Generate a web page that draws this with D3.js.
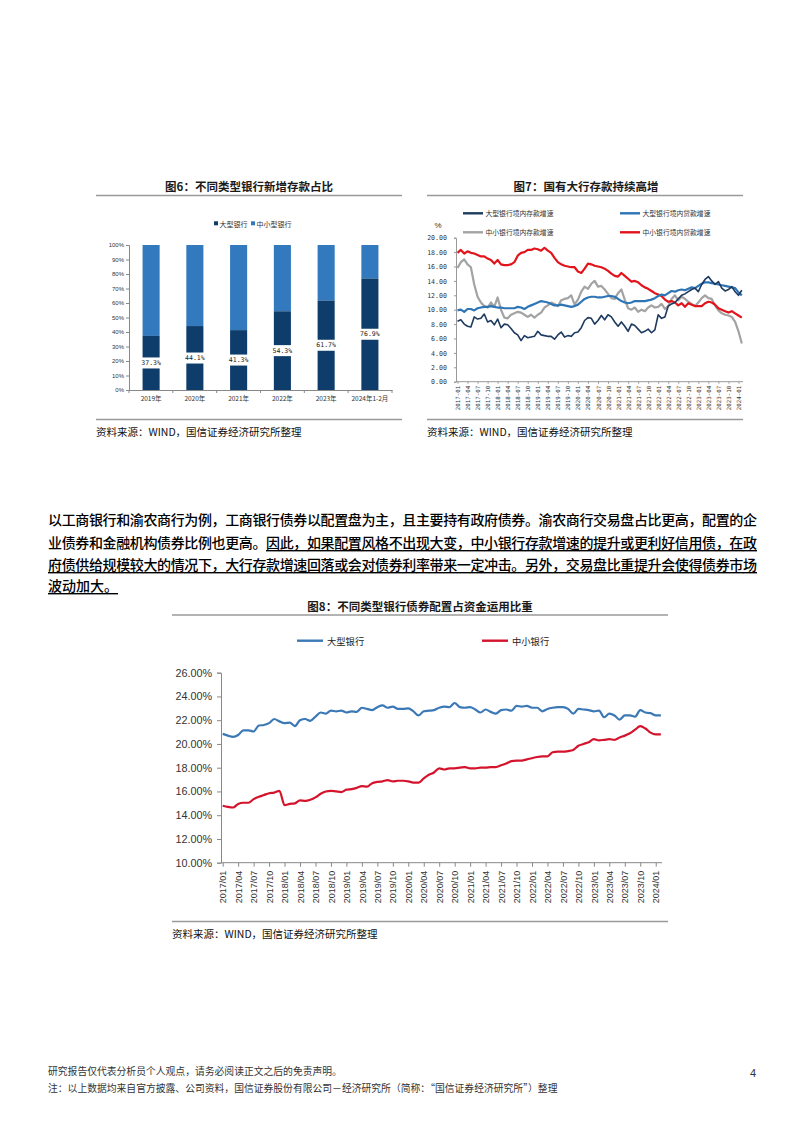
<!DOCTYPE html>
<html><head><meta charset="utf-8">
<script src="https://cdn.jsdelivr.net/npm/d3@7"></script>
<style>body{margin:0;background:#fff} svg{display:block}</style>
</head><body><svg id="page" width="802" height="1133"></svg>
<script>
// ---------- DATA ----------
// Fig 6
const barCats = ["2019年","2020年","2021年","2022年","2023年","2024年1-2月"];
const bigBankShare = [37.3,44.1,41.3,54.3,61.7,76.9];
const barSeriesNames = ["大型银行","中小型银行"];
const pctTicks = [0,10,20,30,40,50,60,70,80,90,100];

// Fig 7 (monthly 2017-01 .. 2024-02)
const bigDeposit = [8.4,8.6,8.0,7.7,7.6,9.0,8.7,8.8,9.4,8.3,8.5,7.9,
 8.7,7.5,8.0,7.9,7.4,6.8,6.5,5.7,6.4,6.1,6.2,6.3,
 7.0,6.5,6.4,6.3,6.3,5.9,6.5,6.9,6.2,6.4,6.3,6.8,
 6.9,7.5,8.5,8.9,8.8,8.0,8.5,9.2,8.6,9.3,9.0,8.3,
 7.7,8.3,7.7,7.0,8.0,7.8,7.3,6.8,7.0,7.3,6.8,7.2,
 9.3,8.8,9.0,10.5,10.8,11.0,11.5,12.0,12.2,12.5,12.8,13.0,
 12.5,13.5,14.2,14.6,14.0,13.5,13.9,13.0,12.6,12.8,13.2,12.5,
 12.0,12.7];
const bigLoan = [9.9,10.0,9.7,10.1,10.1,9.9,10.2,10.3,10.4,10.4,10.5,10.4,
 10.3,10.3,10.2,10.2,10.2,10.2,10.4,10.3,10.1,10.4,10.6,10.8,
 11.0,11.2,11.1,11.0,10.8,10.6,10.6,10.7,10.6,10.5,10.4,10.5,
 10.7,11.1,11.5,11.7,11.8,11.8,11.7,11.7,11.8,11.9,11.9,11.8,
 11.5,11.2,11.0,10.9,11.0,11.2,11.2,11.2,11.2,11.3,11.4,11.6,
 11.9,12.1,12.0,12.3,12.6,12.5,12.7,12.8,12.7,12.9,13.1,13.0,
 13.3,13.6,13.8,13.8,13.7,13.6,13.5,13.4,13.3,13.2,13.1,13.0,
 12.4,12.0];
const smallDeposit = [15.8,16.6,17.0,16.3,15.9,13.5,11.8,11.0,10.5,10.3,11.0,10.4,
 11.7,10.0,8.9,8.8,9.3,9.5,9.7,9.6,9.3,9.0,9.3,8.9,
 9.3,9.6,10.3,10.6,11.0,10.8,10.5,11.3,11.5,11.6,12.0,10.7,
 11.4,12.5,13.2,12.9,13.6,14.0,13.2,13.3,12.8,12.2,11.6,11.5,
 12.3,12.8,11.4,10.2,10.0,10.3,9.7,10.0,9.8,10.3,10.6,10.3,
 10.4,10.8,10.1,10.5,11.5,12.0,11.3,11.8,11.5,11.1,10.8,10.5,
 11.0,11.6,12.0,11.6,11.5,10.6,9.9,9.5,9.3,9.2,9.0,8.3,
 7.0,5.3];
const smallLoan = [17.9,18.3,17.8,18.1,17.9,17.8,17.6,17.4,17.4,17.1,16.9,16.4,
 16.9,16.3,16.2,16.2,16.3,16.6,17.5,17.9,18.0,18.3,18.3,18.5,
 18.4,18.2,18.6,18.2,17.9,17.2,16.6,16.3,16.1,16.0,15.9,15.9,
 15.3,15.1,15.7,16.4,16.3,16.1,16.0,15.9,15.7,15.4,15.0,14.7,
 14.6,15.1,14.7,14.3,13.9,14.0,13.8,13.4,13.1,12.9,12.6,12.3,
 12.1,11.9,11.4,11.1,11.2,11.0,10.6,10.9,10.4,10.9,10.7,10.5,
 10.5,10.5,10.9,11.1,11.0,10.7,10.2,10.0,9.8,9.6,9.8,9.5,
 9.2,8.9];
const fig7Names = ["大型银行境内存款增速","大型银行境内贷款增速","中小银行境内存款增速","中小银行境内贷款增速"];
const fig7YTicks = [0,2,4,6,8,10,12,14,16,18,20];
const fig7XTicks = ["2017-01","2017-04","2017-07","2017-10","2018-01","2018-04","2018-07","2018-10","2019-01","2019-04","2019-07","2019-10","2020-01","2020-04","2020-07","2020-10","2021-01","2021-04","2021-07","2021-10","2022-01","2022-04","2022-07","2022-10","2023-01","2023-04","2023-07","2023-10","2024-01"];

// Fig 8 (monthly 2017/01 .. 2024/02)
const bigBondShare = [20.85,20.7,20.6,20.75,21.15,21.15,21.05,21.55,21.6,21.75,22.1,21.9,
 21.75,21.8,21.5,22.0,22.1,21.95,22.3,22.65,22.55,22.8,22.75,22.8,
 22.65,22.75,22.7,23.05,22.95,22.85,23.1,23.25,23.05,23.15,22.95,22.95,
 23.0,22.75,22.4,22.75,22.8,22.85,23.05,23.15,23.1,23.45,23.1,23.05,
 23.1,22.9,22.65,22.9,22.7,22.55,22.85,22.9,22.8,23.2,23.15,23.2,
 23.05,23.05,22.75,22.95,23.05,23.1,23.1,22.95,22.55,22.95,22.9,22.85,
 22.75,22.8,22.25,22.55,22.4,22.05,22.4,22.4,22.3,22.85,22.65,22.6,
 22.4,22.4];
const smallBondShare = [14.8,14.7,14.65,14.95,15.05,15.05,15.35,15.55,15.7,15.85,15.9,16.05,
 14.85,14.95,15.0,15.25,15.2,15.3,15.5,15.8,16.0,16.05,16.0,15.95,
 16.15,16.2,16.3,16.45,16.4,16.7,16.8,16.85,16.95,16.85,16.9,16.9,
 16.85,16.75,16.75,17.1,17.4,17.6,17.95,17.85,17.95,17.95,18.0,18.05,
 17.95,17.95,18.0,18.0,18.05,18.05,18.2,18.35,18.55,18.6,18.6,18.7,
 18.8,18.9,18.95,18.95,19.3,19.35,19.35,19.4,19.5,19.85,20.0,20.15,
 20.4,20.3,20.35,20.4,20.35,20.55,20.7,20.9,21.2,21.5,21.3,20.95,
 20.8,20.8];
const fig8Names = ["大型银行","中小银行"];
const fig8YTicks = [10,12,14,16,18,20,22,24,26];
const fig8XTicks = ["2017/01","2017/04","2017/07","2017/10","2018/01","2018/04","2018/07","2018/10","2019/01","2019/04","2019/07","2019/10","2020/01","2020/04","2020/07","2020/10","2021/01","2021/04","2021/07","2021/10","2022/01","2022/04","2022/07","2022/10","2023/01","2023/04","2023/07","2023/10","2024/01"];

const paragraph = [
 [["以工商银行和渝农商行为例，工商银行债券以配置盘为主，且主要持有政府债券。渝农商行交易盘占比更高，配置的企",false]],
 [["业债券和金融机构债券比例也更高。",false],["因此，如果配置风格不出现大变，中小银行存款增速的提升或更利好信用债，在政",true]],
 [["府债供给规模较大的情况下，大行存款增速回落或会对债券利率带来一定冲击。另外，交易盘比重提升会使得债券市场",true]],
 [["波动加大。",true]]
];

// ---------- DRAW ----------
const svg = d3.select("#page");
svg.append("rect").attr("width",802).attr("height",1133).attr("fill","#fff");
const CJK = "'Noto Sans CJK SC','Noto Sans',sans-serif";
const SANS = "'Liberation Sans',Arial,sans-serif";

function titleBlock(cx, x0, x1, y, text){
  svg.append("text").attr("x",cx).attr("y",y).attr("text-anchor","middle")
    .attr("dominant-baseline","central").style("font-family",CJK).style("font-size","11.5px")
    .style("font-weight",600).attr("fill","#1a1a1a").text(text);
  svg.append("line").attr("x1",x0).attr("x2",x1).attr("y1",y+9.5).attr("y2",y+9.5)
    .attr("stroke","#9a9a9a").attr("stroke-width",1.5);
}
function sourceBlock(x0, x1, yLine, text){
  svg.append("line").attr("x1",x0).attr("x2",x1).attr("y1",yLine).attr("y2",yLine)
    .attr("stroke","#9a9a9a").attr("stroke-width",1.5);
  svg.append("text").attr("x",x0).attr("y",yLine+12).attr("dominant-baseline","central")
    .style("font-family",CJK).style("font-size","10.5px").attr("fill","#111").text(text);
}

// ===== Fig 6 =====
titleBlock(249, 96, 402, 186, "图6：不同类型银行新增存款占比");
const x6 = d3.scaleBand().domain(barCats).range([129,392]).paddingInner(0.61).paddingOuter(0.31);
const y6 = d3.scaleLinear().domain([0,100]).range([390,245]);
const darkC = "#0e3d6c", lightC = "#3279bd";
const g6 = svg.append("g");
g6.selectAll(".top").data(bigBankShare).join("rect")
  .attr("x",(d,i)=>x6(barCats[i])).attr("width",x6.bandwidth())
  .attr("y",y6(100)).attr("height",d=>y6(d)-y6(100)).attr("fill",lightC);
g6.selectAll(".bot").data(bigBankShare).join("rect")
  .attr("x",(d,i)=>x6(barCats[i])).attr("width",x6.bandwidth())
  .attr("y",d=>y6(d)).attr("height",d=>y6(0)-y6(d)).attr("fill",darkC);
const lab6 = g6.selectAll(".lab").data(bigBankShare).join("g")
  .attr("transform",(d,i)=>`translate(${x6(barCats[i])+x6.bandwidth()/2},${y6(d/2)})`);
lab6.append("rect").attr("x",-12).attr("y",-5.5).attr("width",24).attr("height",11).attr("fill","#fff");
lab6.append("text").attr("text-anchor","middle").attr("dominant-baseline","central")
  .style("font-family","'DejaVu Sans Mono',monospace").style("font-size","6.5px").attr("fill","#222")
  .text(d=>d.toFixed(1)+"%");
const ax6y = svg.append("g").attr("transform","translate(129,0)")
  .call(d3.axisLeft(y6).tickValues(pctTicks).tickFormat(d=>d+"%").tickSize(3).tickPadding(2));
const ax6x = svg.append("g").attr("transform","translate(0,390)")
  .call(d3.axisBottom(x6).tickSize(0).tickPadding(6));
[ax6y,ax6x].forEach(a=>{a.select(".domain").attr("stroke","#888");a.selectAll("line").attr("stroke","#888");
  a.selectAll("text").style("font-family",SANS).style("font-size","6px").attr("fill","#333");});
ax6x.selectAll("text").style("font-family",CJK).style("font-size","6.5px");
svg.append("g").selectAll("line").data(d3.range(barCats.length+1)).join("line")
  .attr("x1",i=>129+i*(392-129)/barCats.length).attr("x2",i=>129+i*(392-129)/barCats.length)
  .attr("y1",390).attr("y2",393).attr("stroke","#888");
const leg6 = [[216,darkC],[253,lightC]];
leg6.forEach((l,i)=>{
  svg.append("rect").attr("x",l[0]-2).attr("y",221.3).attr("width",4).attr("height",4).attr("fill",l[1]);
  svg.append("text").attr("x",l[0]+3.5).attr("y",223.5).attr("dominant-baseline","central")
    .style("font-family",CJK).style("font-size","7px").attr("fill","#333").text(barSeriesNames[i]);
});
sourceBlock(96, 402, 419.5, "资料来源：WIND，国信证券经济研究所整理");

// ===== Fig 7 =====
titleBlock(586, 427, 743, 186, "图7：国有大行存款持续高增");
const months = [];
for(let yy=2017; yy<=2024; yy++) for(let mm=1; mm<=12; mm++){ if(months.length<86) months.push(yy+"-"+String(mm).padStart(2,"0")); }
const x7 = d3.scalePoint().domain(months).range([457.5, 457.5+85*3.345]);
const y7 = d3.scaleLinear().domain([0,20]).range([381.7,237.7]);
const ax7y = svg.append("g").attr("transform","translate(456,0)")
  .call(d3.axisLeft(y7).tickValues(fig7YTicks).tickFormat(d3.format(".2f")).tickSize(2).tickPadding(7));
const ax7x = svg.append("g").attr("transform","translate(0,381.7)")
  .call(d3.axisBottom(x7).tickValues(fig7XTicks).tickSize(2));
ax7x.select(".domain").attr("d","M456,0H743");
[ax7y,ax7x].forEach(a=>{a.select(".domain").attr("stroke","#999");a.selectAll("line").attr("stroke","#999");
  a.selectAll("text").style("font-family","'DejaVu Sans Mono',monospace").attr("fill","#333");});
ax7y.selectAll("text").style("font-size","6.6px");
ax7x.selectAll("text").style("font-size","5.8px").attr("transform","rotate(-90)")
  .attr("x",-4).attr("y",0).attr("dy","0.35em").style("text-anchor","end");
const fig7Series = [bigDeposit,bigLoan,smallDeposit,smallLoan];
const fig7Colors = ["#1d3a5f","#2e75b6","#a3a3a3","#e1141c"];
const line7 = d3.line().x((d,i)=>x7(months[i])).y(d=>y7(d));
[2,3,1,0].forEach(k=>{
  svg.append("path").datum(fig7Series[k]).attr("d",line7).attr("fill","none")
    .attr("stroke",fig7Colors[k]).attr("stroke-width",k===0?1.6:2.2).attr("stroke-linejoin","round");
});
svg.append("text").attr("x",438).attr("y",225.5).attr("text-anchor","middle").attr("dominant-baseline","central")
  .style("font-family",SANS).style("font-size","8px").attr("fill","#333").text("%");
const leg7 = [[463,213.3],[620,213.3],[463,232.3],[620,232.3]];
leg7.forEach((p,k)=>{
  svg.append("line").attr("x1",p[0]).attr("x2",p[0]+20).attr("y1",p[1]).attr("y2",p[1])
    .attr("stroke",fig7Colors[k]).attr("stroke-width",2.4);
  svg.append("text").attr("x",p[0]+22.5).attr("y",p[1]).attr("dominant-baseline","central")
    .style("font-family",CJK).style("font-size","6.8px").attr("fill","#333").text(fig7Names[k]);
});
sourceBlock(427, 743, 419.5, "资料来源：WIND，国信证券经济研究所整理");

// ===== Paragraph =====
const paraY = [519,542,564,585];
paragraph.forEach((segs,li)=>{
  const t = svg.append("text").attr("x",48).attr("y",paraY[li]).attr("dominant-baseline","central")
    .style("font-family",CJK).style("font-size","14px").style("font-weight",500).attr("fill","#000");
  if(li<3) t.attr("textLength",709).attr("lengthAdjust","spacing");
  segs.forEach(s=>{
    t.append("tspan").text(s[0]).style("text-decoration",s[1]?"underline":"none");
  });
});

// ===== Fig 8 =====
titleBlock(420, 172, 668, 605.5, "图8：不同类型银行债券配置占资金运用比重");
const x8 = d3.scalePoint().domain(months).range([222.7, 222.7+85*5.155]);
const y8 = d3.scaleLinear().domain([10,26]).range([862.7,672.7]);
const ax8y = svg.append("g").attr("transform","translate(221,0)")
  .call(d3.axisLeft(y8).tickValues(fig8YTicks).tickFormat(d=>d.toFixed(2)+"%").tickSize(4).tickPadding(5));
const ax8x = svg.append("g").attr("transform","translate(0,862.7)")
  .call(d3.axisBottom(x8).tickValues(fig8XTicks.map(t=>t.replace("/","-"))).tickFormat(d=>d.replace("-","/")).tickSize(4));
ax8x.select(".domain").attr("d","M221,0H662");
[ax8y,ax8x].forEach(a=>{a.select(".domain").attr("stroke","#888");a.selectAll("line").attr("stroke","#888");
  a.selectAll("text").style("font-family",SANS).attr("fill","#333");});
ax8y.selectAll("text").style("font-size","10.8px");
ax8x.selectAll("text").style("font-size","9px").attr("transform","rotate(-90)")
  .attr("x",-8).attr("y",0).attr("dy","0.35em").style("text-anchor","end");
const fig8Series = [bigBondShare, smallBondShare];
const fig8Colors = ["#3b78b6","#d3142c"];
const line8 = d3.line().x((d,i)=>x8(months[i])).y(d=>y8(d)).curve(d3.curveMonotoneX);
fig8Series.forEach((s,k)=>{
  svg.append("path").datum(s).attr("d",line8).attr("fill","none")
    .attr("stroke",fig8Colors[k]).attr("stroke-width",2.2).attr("stroke-linejoin","round");
});
const leg8 = [297, 482];
leg8.forEach((x,k)=>{
  svg.append("line").attr("x1",x).attr("x2",x+26).attr("y1",640.7).attr("y2",640.7)
    .attr("stroke",fig8Colors[k]).attr("stroke-width",2.4);
  svg.append("text").attr("x",x+30).attr("y",640.7).attr("dominant-baseline","central")
    .style("font-family",CJK).style("font-size","9.3px").attr("fill","#222").text(fig8Names[k]);
});
sourceBlock(172, 668, 921.5, "资料来源：WIND，国信证券经济研究所整理");

// ===== Footer =====
const footer = ["研究报告仅代表分析员个人观点，请务必阅读正文之后的免责声明。",
 "注：以上数据均来自官方披露、公司资料，国信证券股份有限公司－经济研究所（简称：“国信证券经济研究所”）整理"];
footer.forEach((f,i)=>{
  svg.append("text").attr("x",48).attr("y",1071+i*17).attr("dominant-baseline","central")
    .style("font-family",CJK).style("font-size","9.8px").attr("fill","#333").text(f);
});
svg.append("text").attr("x",753).attr("y",1073).attr("text-anchor","middle").attr("dominant-baseline","central")
  .style("font-family",SANS).style("font-size","11px").attr("fill","#333").text("4");
</script></body></html>
